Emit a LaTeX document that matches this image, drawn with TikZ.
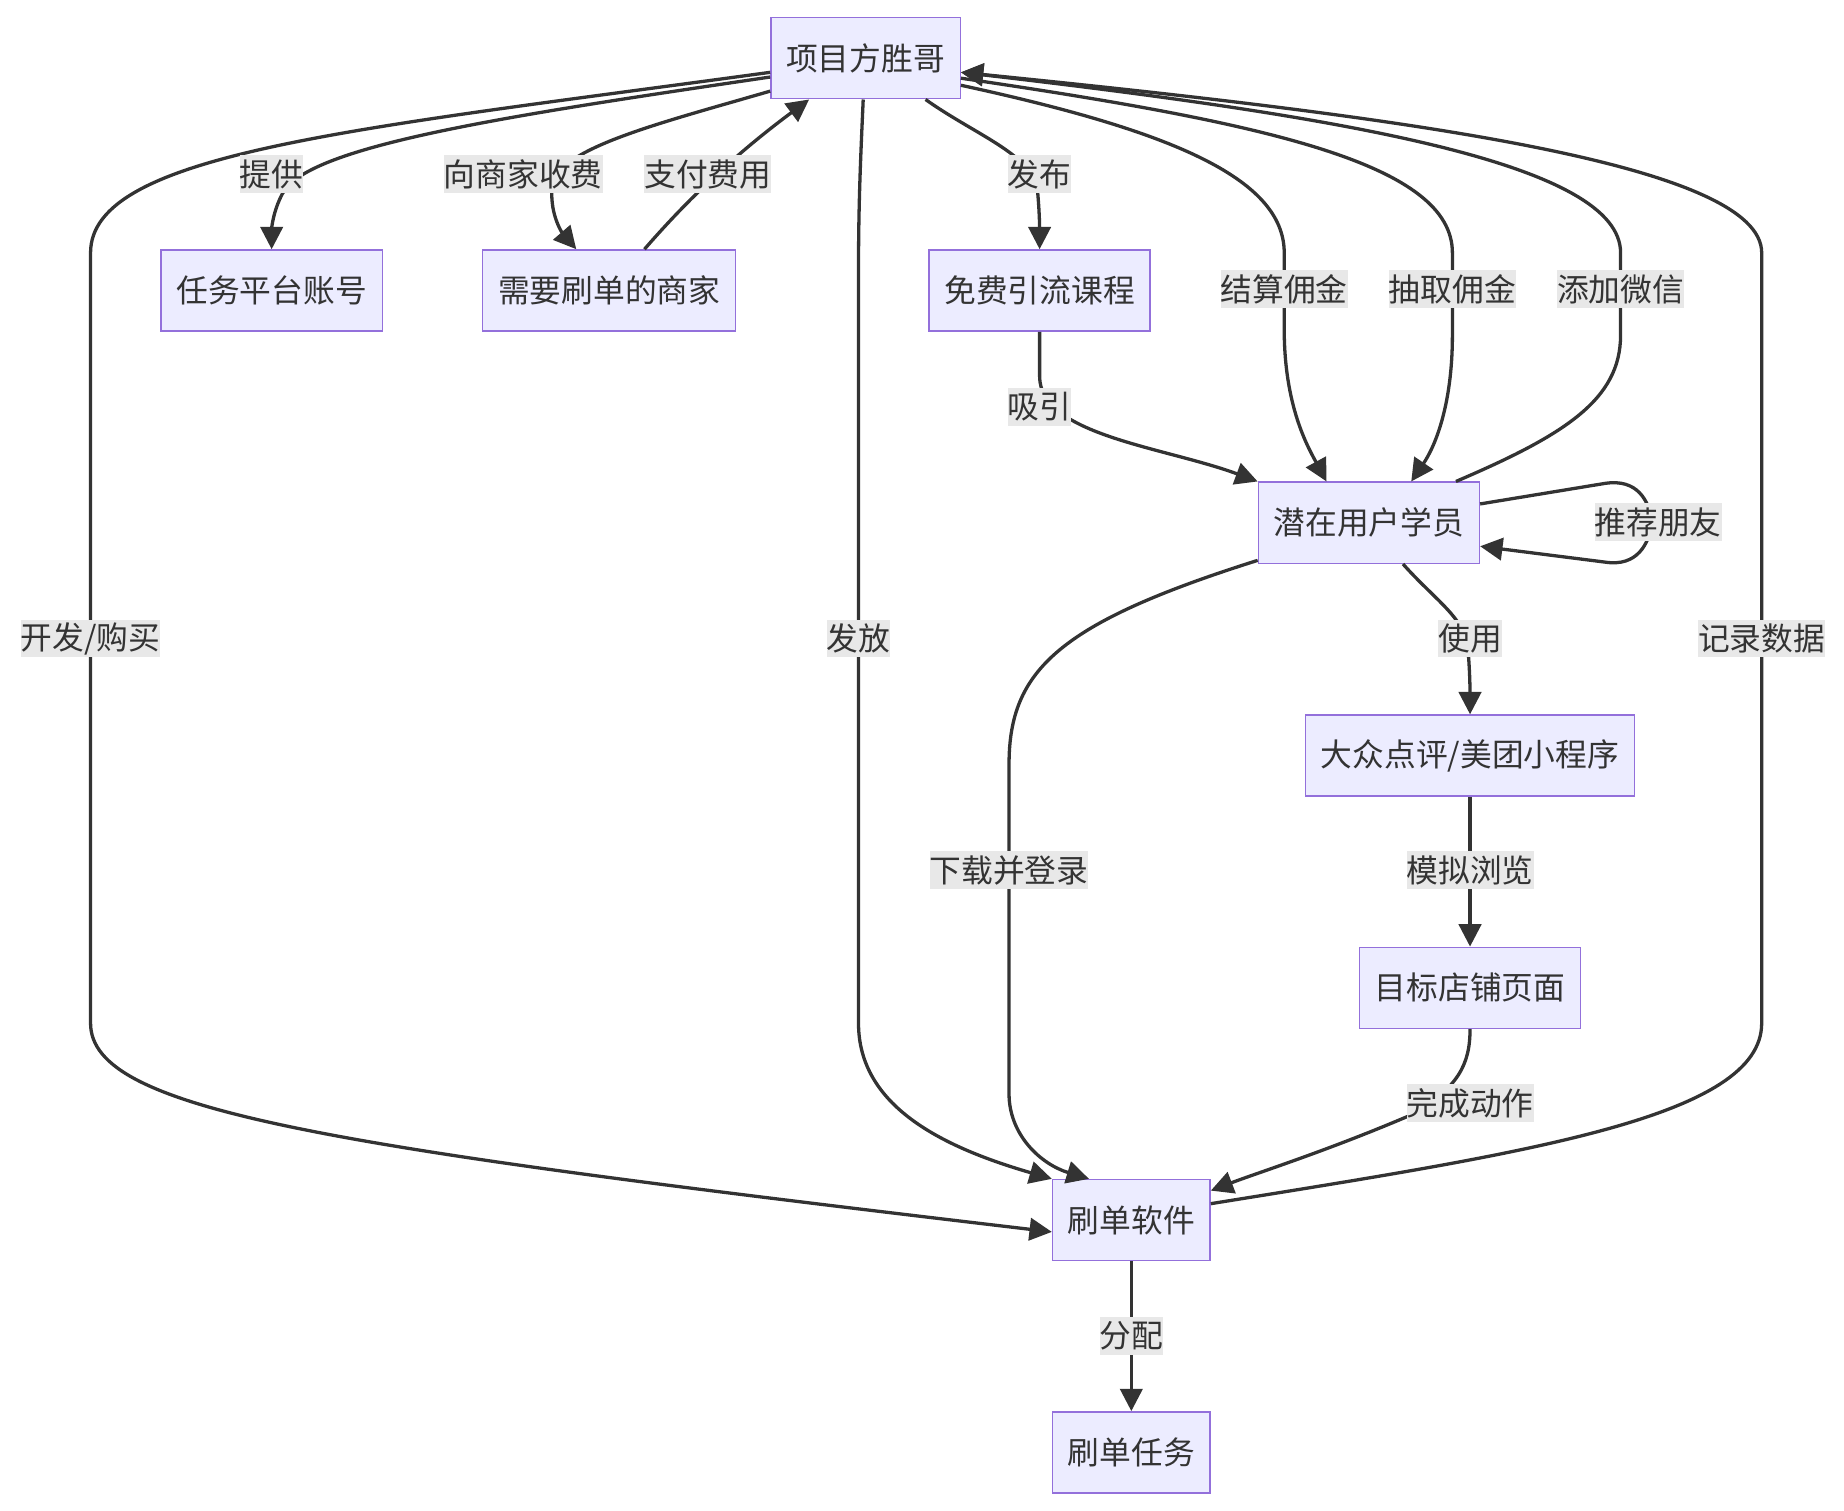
\documentclass[tikz,border=0pt]{standalone}
\usepackage{fontspec}
\setmainfont{Noto Sans CJK SC}
\usetikzlibrary{arrows.meta,positioning}
\definecolor{nodefill}{HTML}{ECECFF}
\definecolor{nodeline}{HTML}{9370DB}
\definecolor{edgecol}{HTML}{333333}
\definecolor{lblfill}{HTML}{E8E8E8}
\begin{document}
\begin{tikzpicture}[x=0.5pt,y=-0.5pt,>={Triangle[length=9.5pt,width=9.5pt]},font=\fontsize{13.5}{16}\selectfont,text=edgecol]
\tikzstyle{bx}=[draw=nodeline,fill=nodefill,line width=0.6pt,minimum height=34.5pt,inner xsep=6.5pt]
\tikzstyle{lab}=[fill=lblfill,inner xsep=0pt,inner ysep=0pt,minimum height=16pt]
\tikzstyle{ln}=[->,draw=edgecol,line width=1.4pt]
\useasboundingbox (0,0) rectangle (1568,1284);
\node[bx] (proj) at (736,49.5) {项目方胜哥};
\node[bx] (acct) at (231,247) {任务平台账号};
\node[bx] (merch) at (518,247) {需要刷单的商家};
\node[bx] (course) at (884,247) {免费引流课程};
\node[bx] (user) at (1164,444.5) {潜在用户学员};
\node[bx] (app) at (1250,642.5) {大众点评/美团小程序};
\node[bx] (shop) at (1250,840) {目标店铺页面};
\node[bx] (soft) at (962,1037.5) {刷单软件};
\node[bx] (task) at (962,1235) {刷单任务};
% edges out of the top node, left side
\draw[ln] ([yshift=-6pt]proj.west) .. controls (300,110) and (77,130) .. (77,215) -- (77,870) .. controls (77,945) and (280,975) .. ([yshift=-5pt]soft.west);
\draw[ln] ([yshift=-8pt]proj.west) .. controls (420,100) and (260,125) .. (240,165) .. controls (232,180) and (231,195) .. (acct.north);
\draw[ln] ([yshift=-14pt]proj.west) .. controls (560,105) and (480,125) .. (470,155) .. controls (466,180) and (478,198) .. ([xshift=-14pt]merch.north);
\draw[ln] ([xshift=15pt]merch.north) .. controls (580,175) and (620,135) .. ([xshift=-24pt]proj.south);
\draw[ln] ([xshift=-1pt]proj.south) .. controls (732,130) and (730,170) .. (730,230) -- (730,870) .. controls (730,940) and (800,975) .. (soft.north west);
\draw[ln] ([xshift=25.5pt]proj.south) .. controls (830,115) and (875,130) .. (882,160) .. controls (884,180) and (884,195) .. (course.north);
\draw[ln] (course.south) -- (884,320) .. controls (884,370) and (990,380) .. (user.north west);
% right side
\draw[ln] ([yshift=-11.5pt]proj.east) .. controls (990,110) and (1092,150) .. (1092,215) -- (1092,280) .. controls (1092,345) and (1112,380) .. ([xshift=-18pt]user.north);
\draw[ln] ([yshift=-8.5pt]proj.east) .. controls (1080,105) and (1235,140) .. (1235,215) -- (1235,285) .. controls (1235,345) and (1220,380) .. ([xshift=18pt]user.north);
\draw[ln] ([xshift=37pt]user.north) .. controls (1330,370) and (1378,340) .. (1378,285) -- (1378,215) .. controls (1378,140) and (1150,100) .. ([yshift=-6pt]proj.east);
\draw[ln] ([yshift=7pt]soft.east) .. controls (1300,980) and (1498,950) .. (1498,870) -- (1498,215) .. controls (1498,140) and (1200,100) .. ([yshift=-6pt]proj.east);
\draw[ln] ([yshift=8pt]user.east) -- (1365,411) .. controls (1392,407) and (1402,425) .. (1405,444) .. controls (1402,463) and (1392,482) .. (1365,478) -- ([yshift=-10pt]user.east);
% lower part
\draw[ln] ([xshift=14.5pt]user.south) .. controls (1220,510) and (1245,525) .. (1248,550) .. controls (1250,570) and (1250,590) .. (app.north);
\draw[ln] ([yshift=-16pt]user.west) .. controls (900,530) and (858,570) .. (858,650) -- (858,930) .. controls (858,965) and (885,990) .. ([xshift=-18pt]soft.north);
\draw[ln] (app.south) -- (shop.north);
\draw[ln] (shop.south) .. controls (1250,905) and (1240,925) .. (1200,948) .. controls (1130,978) and (1070,997) .. ([yshift=-5pt]soft.north east);
\draw[ln] (soft.south) -- (task.north);
% edge labels
\node[lab] (l1) at (231,148) {提供};
\node[lab] (l2) at (445,148) {向商家收费};
\node[lab] (l3) at (602,148) {支付费用};
\node[lab] (l4) at (77,543) {开发/购买};
\node[lab] (l5) at (730,543) {发放};
\node[lab] (l6) at (884,148) {发布};
\node[lab] (l7) at (884,346) {吸引};
\node[lab] (l8) at (1092,246) {结算佣金};
\node[lab] (l9) at (1235,246) {抽取佣金};
\node[lab] (l10) at (1378,246) {添加微信};
\node[lab] (l11) at (1410,444) {推荐朋友};
\node[lab] (l12) at (1250,543) {使用};
\node[lab] (l13) at (858,740) {下载并登录};
\node[lab] (l14) at (1250,740) {模拟浏览};
\node[lab] (l15) at (1498,543) {记录数据};
\node[lab] (l16) at (1250,938) {完成动作};
\node[lab] (l17) at (962,1136) {分配};
\end{tikzpicture}
\end{document}
